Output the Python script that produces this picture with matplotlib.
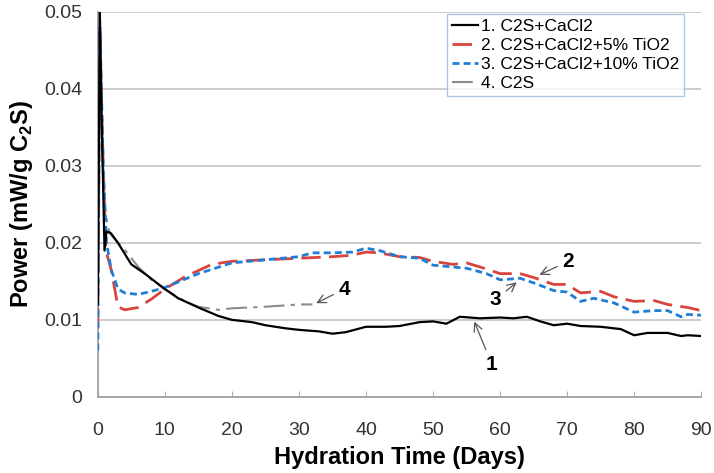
import matplotlib
matplotlib.use("Agg")
import matplotlib.pyplot as plt

plt.rcParams['font.family'] = ['Liberation Sans', 'DejaVu Sans']
plt.rcParams['mathtext.fontset'] = 'custom'
plt.rcParams['mathtext.rm'] = 'Liberation Sans'
plt.rcParams['mathtext.bf'] = 'Liberation Sans:bold'

# curve 1: C2S+CaCl2
x1 = [0, 0.3, 0.6, 1.0, 1.3, 2, 3, 5, 7, 10, 12, 15, 18, 20, 23, 25, 28, 30, 33, 35, 37,
      40, 43, 45, 48, 50, 52, 54, 57, 60, 62, 64, 66, 68, 70, 72, 75, 78, 80, 82, 85, 87, 88, 90]
y1 = [0.012, 0.05, 0.035, 0.019, 0.0215, 0.0212, 0.0200, 0.0172, 0.0160, 0.0140, 0.0128, 0.0116,
      0.0105, 0.0100, 0.0097, 0.0093, 0.0089, 0.0087, 0.0085, 0.0082, 0.0084, 0.0091, 0.0091,
      0.0092, 0.0097, 0.0098, 0.0095, 0.0104, 0.0102, 0.0103, 0.0102, 0.0104, 0.0098, 0.0093,
      0.0095, 0.0092, 0.0091, 0.0088, 0.0080, 0.0083, 0.0083, 0.0079, 0.0080, 0.0079]

# curve 2: C2S+CaCl2+5% TiO2
x2 = [0, 0.3, 0.8, 1.2, 2, 3, 4, 6, 8, 10, 13, 17, 20, 25, 30, 35, 38, 40, 42, 45, 48, 50,
      53, 55, 58, 60, 63, 65, 68, 70, 72, 75, 77, 80, 83, 85, 88, 90]
y2 = [0.009, 0.048, 0.030, 0.019, 0.0165, 0.0117, 0.0113, 0.0116, 0.0127, 0.0140, 0.0156,
      0.0172, 0.0176, 0.0178, 0.0180, 0.0182, 0.0184, 0.0188, 0.0187, 0.0182, 0.0181, 0.0176,
      0.0172, 0.0174, 0.0166, 0.0160, 0.0160, 0.0155, 0.0146, 0.0146, 0.0135, 0.0137, 0.0130,
      0.0124, 0.0125, 0.0120, 0.0116, 0.0112]

# curve 3: C2S+CaCl2+10% TiO2
x3 = [0, 0.3, 0.8, 1.3, 2, 3, 4, 6, 8, 10, 15, 20, 25, 30, 32, 35, 38, 40, 42, 45, 48, 50,
      55, 58, 60, 63, 65, 68, 70, 72, 74, 77, 80, 83, 85, 87, 88, 90]
y3 = [0.006, 0.048, 0.030, 0.020, 0.0165, 0.0140, 0.0135, 0.0133, 0.0137, 0.0142, 0.0160,
      0.0174, 0.0178, 0.0182, 0.0187, 0.0187, 0.0188, 0.0193, 0.0190, 0.0182, 0.0180, 0.0171,
      0.0167, 0.0160, 0.0152, 0.0154, 0.0148, 0.0138, 0.0136, 0.0124, 0.0128, 0.0122, 0.0110,
      0.0112, 0.0112, 0.0104, 0.0107, 0.0106]

# curve 4: C2S
x4 = [0, 0.3, 0.6, 1, 1.5, 2, 4, 6, 8, 10, 13, 15, 18, 20, 25, 30, 32]
y4 = [0.010, 0.050, 0.035, 0.025, 0.022, 0.021, 0.0191, 0.0169, 0.0152, 0.0140, 0.0124,
      0.0117, 0.0113, 0.0115, 0.0117, 0.0120, 0.0120]

labels = ["1. C2S+CaCl2", "2. C2S+CaCl2+5% TiO2", "3. C2S+CaCl2+10% TiO2", "4. C2S"]

fig = plt.figure(figsize=(7.14, 4.73), dpi=100)
ax = fig.add_axes([0.137, 0.161, 0.845, 0.814])

ax.plot(x1, y1, color="black", lw=1.6, label=labels[0], zorder=5)
ax.plot(x2, y2, color="#d9443c", lw=2.0, dashes=(7, 3), label=labels[1], zorder=3)
ax.plot(x3, y3, color="#1f7fd6", lw=2.0, dashes=(2.5, 1.5), label=labels[2], zorder=4)
ax.plot(x4, y4, color="#8c8c8c", lw=1.5, dashes=(10, 3, 2, 3), label=labels[3], zorder=2)

ax.set_xlim(0, 90)
ax.set_ylim(0, 0.05)
ax.set_xticks(range(0, 91, 10))
ax.set_yticks([0, 0.01, 0.02, 0.03, 0.04, 0.05])
ax.set_yticklabels(["0", "0.01", "0.02", "0.03", "0.04", "0.05"])
ax.yaxis.grid(True, color="#c8c8c8", lw=1.3)
ax.set_axisbelow(True)
for s in ["top", "right"]:
    ax.spines[s].set_visible(False)
for s in ["left", "bottom"]:
    ax.spines[s].set_color("#a0a0a0")
    ax.spines[s].set_linewidth(1.3)
ax.tick_params(axis="x", direction="in", length=4, color="#b0b0b0", labelsize=14,
               labelcolor="#333333", pad=18)
ax.tick_params(axis="y", length=0, labelsize=14, labelcolor="#333333", pad=11)

ax.set_xlabel("Hydration Time (Days)", fontsize=17, fontweight="bold", labelpad=5)
ax.set_ylabel("Power (mW/g C$_\\mathbf{2}$S)", fontsize=17, fontweight="bold", labelpad=7)

leg = ax.legend(loc="upper right", bbox_to_anchor=(0.972, 0.995), fontsize=12.5,
                frameon=True, fancybox=False, handlelength=1.5, handletextpad=0.15,
                borderpad=0.3, labelspacing=0.22, borderaxespad=0)
leg.get_frame().set_edgecolor("#9ab6e0")
leg.get_frame().set_linewidth(1.0)

arrow = dict(arrowstyle="->", color="#555555", lw=0.9)
kw = dict(fontsize=15, fontweight="bold", ha="center", va="center", arrowprops=arrow)
ax.annotate("4", xy=(32.2, 0.0120), xytext=(36.8, 0.0140), **kw)
ax.annotate("2", xy=(65.5, 0.0157), xytext=(70.2, 0.0176), **kw)
ax.annotate("3", xy=(62.8, 0.0151), xytext=(59.3, 0.0126), **kw)
ax.annotate("1", xy=(56.0, 0.0101), xytext=(58.8, 0.0042), **kw)

fig.savefig("out.png", dpi=100)
